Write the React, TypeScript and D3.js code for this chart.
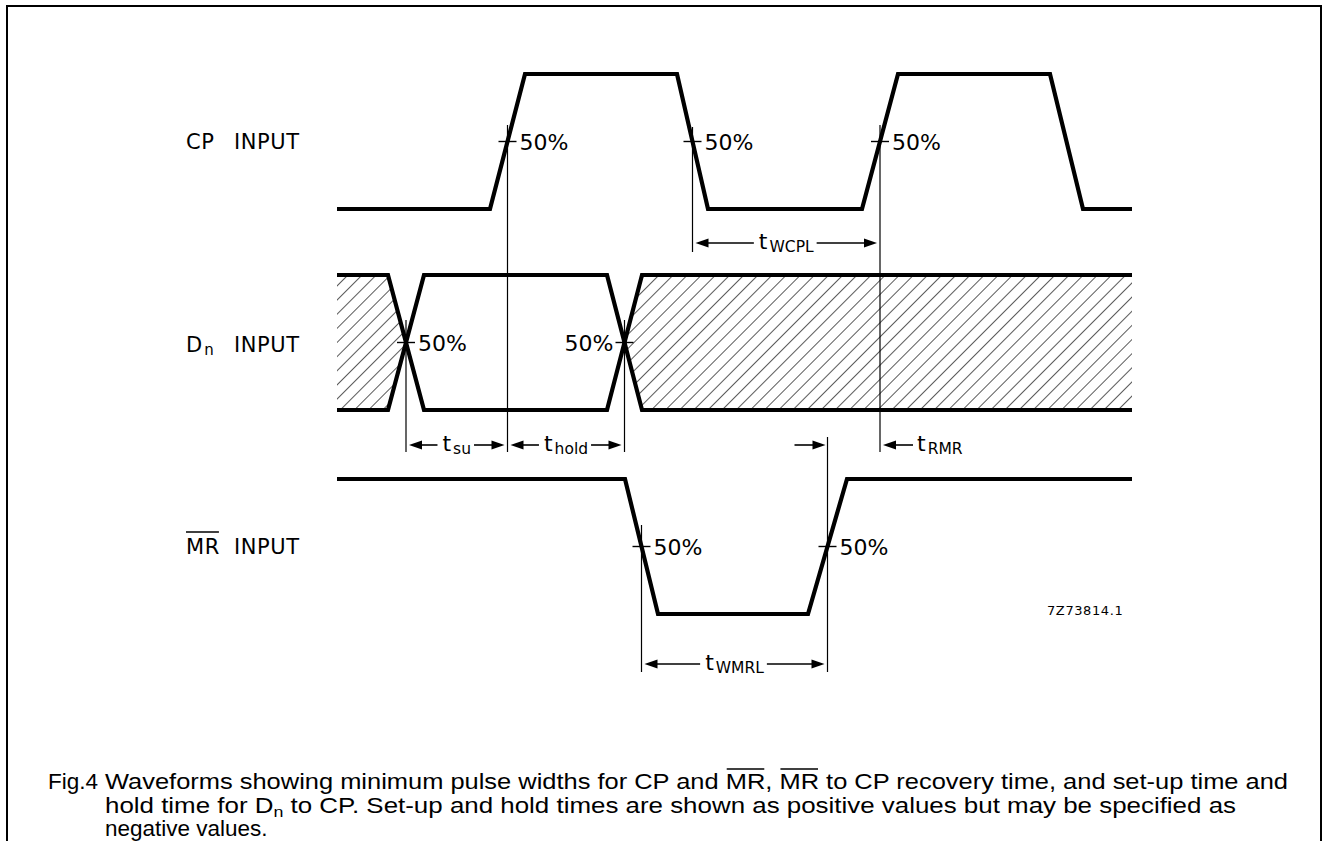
import React, { useEffect, useRef } from 'react';
import * as d3 from 'd3';

const W = 1329;
const H = 841;

// time axis in arbitrary units (0..795), level 0 = low, 1 = high
const cpWave = [
  { t: 0, v: 0 }, { t: 153, v: 0 }, { t: 188, v: 1 }, { t: 340, v: 1 }, { t: 371, v: 0 },
  { t: 525, v: 0 }, { t: 561, v: 1 }, { t: 713, v: 1 }, { t: 746, v: 0 }, { t: 795, v: 0 },
];
// data input is drawn as two crossing traces
const dnWaveA = [
  { t: 0, v: 1 }, { t: 51, v: 1 }, { t: 87, v: 0 }, { t: 270, v: 0 }, { t: 305, v: 1 }, { t: 795, v: 1 },
];
const dnWaveB = [
  { t: 0, v: 0 }, { t: 51, v: 0 }, { t: 87, v: 1 }, { t: 270, v: 1 }, { t: 305, v: 0 }, { t: 795, v: 0 },
];
const dnHatchLeft = [
  { t: 0, v: 1 }, { t: 51, v: 1 }, { t: 69, v: 0.5 }, { t: 51, v: 0 }, { t: 0, v: 0 },
];
const dnHatchRight = [
  { t: 287.5, v: 0.5 }, { t: 305, v: 1 }, { t: 795, v: 1 }, { t: 795, v: 0 }, { t: 305, v: 0 },
];
const mrWave = [
  { t: 0, v: 1 }, { t: 288, v: 1 }, { t: 321, v: 0 }, { t: 471, v: 0 }, { t: 510, v: 1 }, { t: 795, v: 1 },
];

const rows = ['CP', 'Dn', 'MR'];
const rowHigh = { CP: 74, Dn: 275, MR: 479 };
const rowSwing = 135;

// 50 % crossing points
const crossings = [
  { row: 'CP', t: 170.5, side: 'right' },
  { row: 'CP', t: 355.5, side: 'right' },
  { row: 'CP', t: 543, side: 'right' },
  { row: 'Dn', t: 69, side: 'right' },
  { row: 'Dn', t: 287.5, side: 'left' },
  { row: 'MR', t: 304.5, side: 'right' },
  { row: 'MR', t: 490.5, side: 'right' },
];

// thin reference lines (time, top, bottom)
const guides = [
  { t: 170.5, y1: 125, y2: 452 },
  { t: 355.5, y1: 127, y2: 252 },
  { t: 543, y1: 125, y2: 452 },
  { t: 69, y1: 320, y2: 452 },
  { t: 287.5, y1: 320, y2: 452 },
  { t: 304.5, y1: 525, y2: 672 },
  { t: 490.5, y1: 437, y2: 672 },
];

// timing parameters
const timings = [
  { sub: 'WCPL', from: 355.5, to: 543, y: 243, kind: 'inside' },
  { sub: 'su', from: 69, to: 170.5, y: 445, kind: 'inside' },
  { sub: 'hold', from: 170.5, to: 287.5, y: 445, kind: 'inside' },
  { sub: 'RMR', from: 490.5, to: 543, y: 445, kind: 'outside' },
  { sub: 'WMRL', from: 304.5, to: 490.5, y: 664, kind: 'inside' },
];

const captionLine1 = [
  { s: 'Waveforms showing minimum pulse widths for CP and ' },
  { s: 'MR', over: true },
  { s: ', ' },
  { s: 'MR', over: true },
  { s: ' to CP recovery time, and set-up time and' },
];
const captionLine2 = [
  { s: 'hold time for D' },
  { s: 'n', sub: true },
  { s: ' to CP. Set-up and hold times are shown as positive values but may be specified as' },
];
const captionLine3 = [{ s: 'negative values.' }];

const labelFont = '"DejaVu Sans", Arial, sans-serif';
const captionFont = '"Liberation Sans", Arial, Helvetica, sans-serif';

export default function App() {
  const svgRef = useRef<SVGSVGElement>(null);

  useEffect(() => {
    const svg = d3.select(svgRef.current);
    svg.selectAll('*').remove();

    const x = d3.scaleLinear().domain([0, 795]).range([337, 1132]);
    const yRow = (r: string) =>
      d3.scaleLinear().domain([0, 1]).range([rowHigh[r] + rowSwing, rowHigh[r]]);

    // hatch pattern
    const defs = svg.append('defs');
    defs
      .append('pattern')
      .attr('id', 'hatch')
      .attr('patternUnits', 'userSpaceOnUse')
      .attr('width', 10)
      .attr('height', 10)
      .attr('patternTransform', 'rotate(45)')
      .append('line')
      .attr('x1', 0)
      .attr('y1', 0)
      .attr('x2', 0)
      .attr('y2', 10)
      .attr('stroke', '#000')
      .attr('stroke-width', 1.3);

    // frame
    svg
      .append('path')
      .attr('d', `M7,${H} V6 H1321 V${H}`)
      .attr('fill', 'none')
      .attr('stroke', '#000')
      .attr('stroke-width', 2);

    const yDn = yRow('Dn');
    const poly = d3
      .line<any>()
      .x((d) => x(d.t))
      .y((d) => yDn(d.v));
    [dnHatchLeft, dnHatchRight].forEach((p) => {
      svg.append('path').attr('d', poly(p) + 'Z').attr('fill', 'url(#hatch)');
    });

    // guides
    svg
      .selectAll('line.guide')
      .data(guides)
      .enter()
      .append('line')
      .attr('class', 'guide')
      .attr('x1', (d) => x(d.t))
      .attr('x2', (d) => x(d.t))
      .attr('y1', (d) => d.y1)
      .attr('y2', (d) => d.y2)
      .attr('stroke', '#000')
      .attr('stroke-width', 1.2);

    // waveforms
    const waves = [
      { row: 'CP', data: cpWave },
      { row: 'Dn', data: dnWaveA },
      { row: 'Dn', data: dnWaveB },
      { row: 'MR', data: mrWave },
    ];
    waves.forEach((w) => {
      const y = yRow(w.row);
      const line = d3
        .line<any>()
        .x((d) => x(d.t))
        .y((d) => y(d.v));
      svg
        .append('path')
        .attr('d', line(w.data))
        .attr('fill', 'none')
        .attr('stroke', '#000')
        .attr('stroke-width', 4.2)
        .attr('stroke-linejoin', 'miter');
    });

    // 50% ticks and labels
    crossings.forEach((c) => {
      const cx = x(c.t);
      const cy = yRow(c.row)(0.5);
      svg
        .append('line')
        .attr('x1', cx - 9)
        .attr('x2', cx + 9)
        .attr('y1', cy)
        .attr('y2', cy)
        .attr('stroke', '#000')
        .attr('stroke-width', 1.4);
      svg
        .append('text')
        .attr('x', c.side === 'right' ? cx + 12 : cx - 11)
        .attr('y', cy + 8)
        .attr('text-anchor', c.side === 'right' ? 'start' : 'end')
        .attr('font-family', labelFont)
        .attr('font-size', 22)
        .text('50%');
    });

    // row labels
    const lab = svg.append('g').attr('font-family', labelFont).attr('font-size', 21);
    const baselines = { CP: 149, Dn: 352, MR: 554 };
    rows.forEach((r) => {
      lab.append('text').attr('x', 234).attr('y', baselines[r]).attr('letter-spacing', 0.6).text('INPUT');
    });
    lab.append('text').attr('x', 186).attr('y', baselines.CP).attr('letter-spacing', 0.6).text('CP');
    const dText = lab.append('text').attr('x', 186).attr('y', baselines.Dn);
    dText.append('tspan').text('D');
    dText.append('tspan').attr('font-size', 15).attr('dx', 2).attr('dy', 3).text('n');
    const mrText = lab.append('text').attr('x', 186).attr('y', baselines.MR).attr('letter-spacing', 0.6).text('MR');
    const mrLen = (mrText.node() as SVGTextElement).getComputedTextLength();
    lab
      .append('line')
      .attr('x1', 186)
      .attr('x2', 186 + mrLen - 1)
      .attr('y1', 532)
      .attr('y2', 532)
      .attr('stroke', '#000')
      .attr('stroke-width', 1.6);

    // arrows
    const head = (tip: number, y: number, dir: number) => {
      svg
        .append('path')
        .attr('d', `M${tip},${y} L${tip - dir * 13},${y - 4.5} L${tip - dir * 13},${y + 4.5} Z`)
        .attr('fill', '#000');
    };
    const shaft = (a: number, b: number, y: number) => {
      svg
        .append('line')
        .attr('x1', a)
        .attr('x2', b)
        .attr('y1', y)
        .attr('y2', y)
        .attr('stroke', '#000')
        .attr('stroke-width', 1.6);
    };
    const tLabel = (lx: number, y: number, sub: string, anchor: string) => {
      const t = svg
        .append('text')
        .attr('x', lx)
        .attr('y', y + 6)
        .attr('font-family', labelFont)
        .attr('font-size', 22)
        .attr('text-anchor', anchor);
      t.append('tspan').text('t');
      t.append('tspan').attr('font-size', 15.5).attr('dx', 2).attr('dy', 3).text(sub);
      return t;
    };

    timings.forEach((tm) => {
      const xa = x(tm.from);
      const xb = x(tm.to);
      if (tm.kind === 'inside') {
        const cx = (xa + xb) / 2;
        const t = tLabel(cx, tm.y, tm.sub, 'middle');
        const w = (t.node() as SVGTextElement).getComputedTextLength();
        head(xa + 3, tm.y, -1);
        shaft(xa + 10, cx - w / 2 - 6, tm.y);
        shaft(cx + w / 2 + 4, xb - 10, tm.y);
        head(xb - 3, tm.y, 1);
      } else {
        head(xa - 2, tm.y, 1);
        shaft(xa - 33, xa - 10, tm.y);
        head(xb + 3, tm.y, -1);
        shaft(xb + 10, xb + 33, tm.y);
        tLabel(xb + 37, tm.y, tm.sub, 'start');
      }
    });

    // drawing number
    svg
      .append('text')
      .attr('x', 1047)
      .attr('y', 615)
      .attr('font-family', labelFont)
      .attr('font-size', 13)
      .attr('letter-spacing', 0.6)
      .text('7Z73814.1');

    // caption
    const cap = svg.append('g').attr('font-family', captionFont).attr('font-size', 22.5);
    cap.append('text').attr('x', 48).attr('y', 789).text('Fig.4');
    const lines = [
      { parts: captionLine1, y: 789, width: 1183 },
      { parts: captionLine2, y: 813, width: 1131 },
      { parts: captionLine3, y: 836, width: 0 },
    ];
    lines.forEach((ln) => {
      const t = cap.append('text').attr('x', 105).attr('y', ln.y);
      const overs: { start: number; len: number }[] = [];
      let idx = 0;
      let shifted = false;
      ln.parts.forEach((p: any) => {
        const ts = t.append('tspan').text(p.s);
        if (p.sub) {
          ts.attr('font-size', 15.5).attr('dy', 4);
          shifted = true;
        } else if (shifted) {
          ts.attr('dy', -4);
          shifted = false;
        }
        if (p.over) overs.push({ start: idx, len: p.s.length });
        idx += p.s.length;
      });
      const node = t.node() as SVGTextElement;
      if (ln.width) {
        t.attr('textLength', ln.width).attr('lengthAdjust', 'spacingAndGlyphs');
      }
      overs.forEach((o) => {
        const s = node.getStartPositionOfChar(o.start);
        const e = node.getEndPositionOfChar(o.start + o.len - 1);
        cap
          .append('line')
          .attr('x1', s.x + 1)
          .attr('x2', e.x - 1)
          .attr('y1', ln.y - 20)
          .attr('y2', ln.y - 20)
          .attr('stroke', '#000')
          .attr('stroke-width', 1.3);
      });
    });
  }, []);

  return (
    <svg
      ref={svgRef}
      width={W}
      height={H}
      style={{ position: 'absolute', left: 0, top: 0, background: '#fff' }}
    />
  );
}
